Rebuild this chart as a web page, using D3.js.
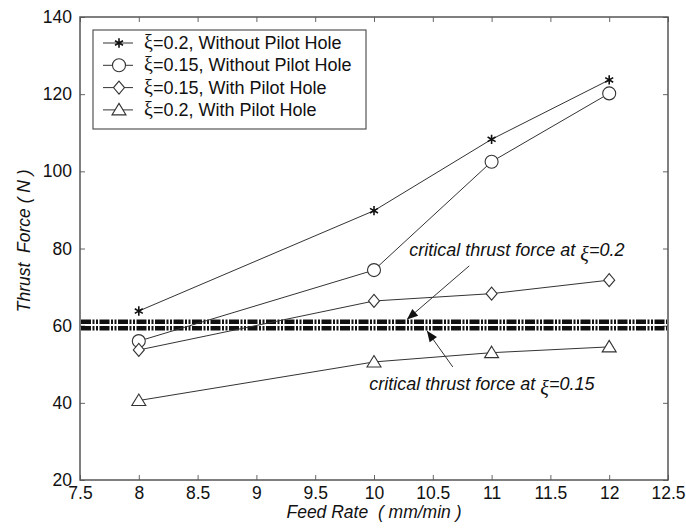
<!DOCTYPE html>
<meta charset="utf-8">
<title>Thrust Force vs Feed Rate</title>
<script src="https://d3js.org/d3.v7.min.js"></script>
<style>
  body { margin: 0; background: #fff; }
  text { font-family: "Liberation Sans", Arial, sans-serif; fill: #111; white-space: pre; }
</style>
<body>
<script>

var w = 686
var h = 529

// data
var feedRates = [8, 10, 11, 12]
var starNoPilot = [63.8, 89.8, 108.3, 123.7]      // xi=0.2, without pilot hole
var circleNoPilot = [56.0, 74.4, 102.5, 120.2]    // xi=0.15, without pilot hole
var diamondPilot = [53.7, 66.4, 68.3, 71.8]       // xi=0.15, with pilot hole
var trianglePilot = [40.6, 50.6, 53.0, 54.5]      // xi=0.2, with pilot hole
var criticalForces = [61.0, 59.3]                 // xi=0.2, xi=0.15
var xTicks = [7.5, 8, 8.5, 9, 9.5, 10, 10.5, 11, 11.5, 12, 12.5]
var yTicks = [20, 40, 60, 80, 100, 120, 140]
var seriesNames = ["=0.2, Without Pilot Hole", "=0.15, Without Pilot Hole",
                   "=0.15, With Pilot Hole", "=0.2, With Pilot Hole"]
var seriesMarkers = ["star", "circle", "diamond", "triangle"]

var series = [starNoPilot, circleNoPilot, diamondPilot, trianglePilot].map(function(vals, i) {
  return { name: seriesNames[i], marker: seriesMarkers[i],
           points: vals.map(function(v, j) { return [feedRates[j], v]; }) };
});

// plot frame (window.top is reserved, so prefixed names)
var pLeft = 80, pRight = 668, pTop = 17, pBottom = 480

var svg = d3.select("body").append("svg")
  .attr("width", w)
  .attr("height", h);

var x = d3.scaleLinear().domain([7.5, 12.5]).range([pLeft, pRight]);
var y = d3.scaleLinear().domain([20, 140]).range([pBottom, pTop]);

var ink = "#333";

// ticks on all four sides, pointing in
var axisB = d3.axisBottom(x).tickValues(xTicks).tickSize(-5).tickPadding(7)
  .tickFormat(function(d) { return d; });
var axisL = d3.axisLeft(y).tickValues(yTicks).tickSize(-5).tickPadding(8);
var axisT = d3.axisTop(x).tickValues(xTicks).tickSize(-5).tickFormat("");
var axisR = d3.axisRight(y).tickValues(yTicks).tickSize(-5).tickFormat("");

function styleAxis(g) {
  g.select(".domain").remove();
  g.selectAll("line").attr("stroke", "#666");
  g.selectAll("text").attr("font-size", 17.5).attr("fill", "#111")
    .style("font-family", "'Liberation Sans', Arial, sans-serif");
}
svg.append("g").attr("transform", "translate(0," + pBottom + ")").call(axisB).call(styleAxis);
svg.append("g").attr("transform", "translate(" + pLeft + ",0)").call(axisL).call(styleAxis);
svg.append("g").attr("transform", "translate(0," + pTop + ")").call(axisT).call(styleAxis);
svg.append("g").attr("transform", "translate(" + pRight + ",0)").call(axisR).call(styleAxis);

svg.append("rect")
  .attr("x", pLeft).attr("y", pTop)
  .attr("width", pRight - pLeft).attr("height", pBottom - pTop)
  .attr("fill", "none").attr("stroke", "#555").attr("stroke-width", 1.5);

// critical thrust force lines
svg.selectAll(".crit").data(criticalForces).enter().append("line")
  .attr("x1", pLeft + 1).attr("x2", pRight - 1)
  .attr("y1", function(d) { return y(d); })
  .attr("y2", function(d) { return y(d); })
  .attr("stroke", "#111").attr("stroke-width", 4.5)
  .attr("stroke-dasharray", "10,1.5,2,1.5,2,1.5");

// series lines
var line = d3.line().x(function(d) { return x(d[0]); }).y(function(d) { return y(d[1]); });
svg.selectAll(".series").data(series).enter().append("path")
  .attr("d", function(d) { return line(d.points); })
  .attr("fill", "none").attr("stroke", ink).attr("stroke-width", 1);

function drawMarker(g, type) {
  if (type == "star") {
    g.append("path").attr("d", d3.symbol().type(d3.symbolAsterisk).size(60))
      .attr("fill", "none").attr("stroke", "#111").attr("stroke-width", 1.6);
  } else if (type == "circle") {
    g.append("circle").attr("r", 6.5).attr("fill", "#fff").attr("stroke", ink).attr("stroke-width", 1.1);
  } else if (type == "diamond") {
    g.append("path").attr("d", "M0,-6.5L5.5,0L0,6.5L-5.5,0Z")
      .attr("fill", "#fff").attr("stroke", ink).attr("stroke-width", 1.1);
  } else {
    g.append("path").attr("d", "M0,-6.5L7,5L-7,5Z")
      .attr("fill", "#fff").attr("stroke", ink).attr("stroke-width", 1.1);
  }
}

series.forEach(function(s) {
  s.points.forEach(function(p) {
    var g = svg.append("g").attr("transform", "translate(" + x(p[0]) + "," + y(p[1]) + ")");
    drawMarker(g, s.marker);
  });
});

// legend
var legend = svg.append("g").attr("transform", "translate(93,30)");
legend.append("rect").attr("width", 273).attr("height", 99)
  .attr("fill", "#fff").attr("stroke", "#555").attr("stroke-width", 1.2);
series.forEach(function(s, i) {
  var row = legend.append("g").attr("transform", "translate(0," + (13 + i * 22.3) + ")");
  row.append("line").attr("x1", 10).attr("x2", 40).attr("stroke", ink);
  var m = row.append("g").attr("transform", "translate(26,0)");
  drawMarker(m, s.marker);
  var t = row.append("text").attr("x", 51).attr("y", 6).attr("font-size", 18);
  t.append("tspan").text("ξ").style("font-family", "'Liberation Serif', serif").attr("font-size", 20);
  t.append("tspan").text(s.name);
});

// annotations
function annotate(tx, ty, label, ax1, ay1, ax2, ay2) {
  var t = svg.append("text").attr("x", x(tx)).attr("y", y(ty))
    .attr("font-size", 18).attr("font-style", "italic");
  t.append("tspan").text("critical thrust force at ");
  t.append("tspan").text("ξ").attr("dy", 5).attr("font-size", 20)
    .style("font-family", "'Liberation Serif', serif");
  t.append("tspan").text(label).attr("dy", -5);
  var x1 = x(ax1), y1 = y(ay1), x2 = x(ax2), y2 = y(ay2);
  svg.append("line").attr("x1", x1).attr("y1", y1).attr("x2", x2).attr("y2", y2)
    .attr("stroke", ink).attr("stroke-width", 1);
  var ang = Math.atan2(y2 - y1, x2 - x1), L = 11, W = 4.5;
  var bx = x2 - L * Math.cos(ang), by = y2 - L * Math.sin(ang);
  svg.append("path")
    .attr("d", "M" + x2 + "," + y2 +
      "L" + (bx + W * Math.sin(ang)) + "," + (by - W * Math.cos(ang)) +
      "L" + (bx - W * Math.sin(ang)) + "," + (by + W * Math.cos(ang)) + "Z")
    .attr("fill", "#111");
}
annotate(10.3, 78.1, "=0.2", 10.81, 75.5, 10.28, criticalForces[0] + 0.6);
annotate(9.96, 43.3, "=0.15", 10.67, 49.3, 10.45, criticalForces[1] - 0.6);

// axis titles
svg.append("text").attr("x", (pLeft + pRight) / 2).attr("y", 518)
  .attr("text-anchor", "middle").attr("font-size", 17.5).attr("font-style", "italic")
  .text("Feed Rate  ( mm/min )");
svg.append("text").attr("transform", "translate(30," + y(82) + ") rotate(-90)")
  .attr("text-anchor", "middle").attr("font-size", 17.5).attr("font-style", "italic")
  .text("Thrust  Force ( N )");

</script>
</body>
